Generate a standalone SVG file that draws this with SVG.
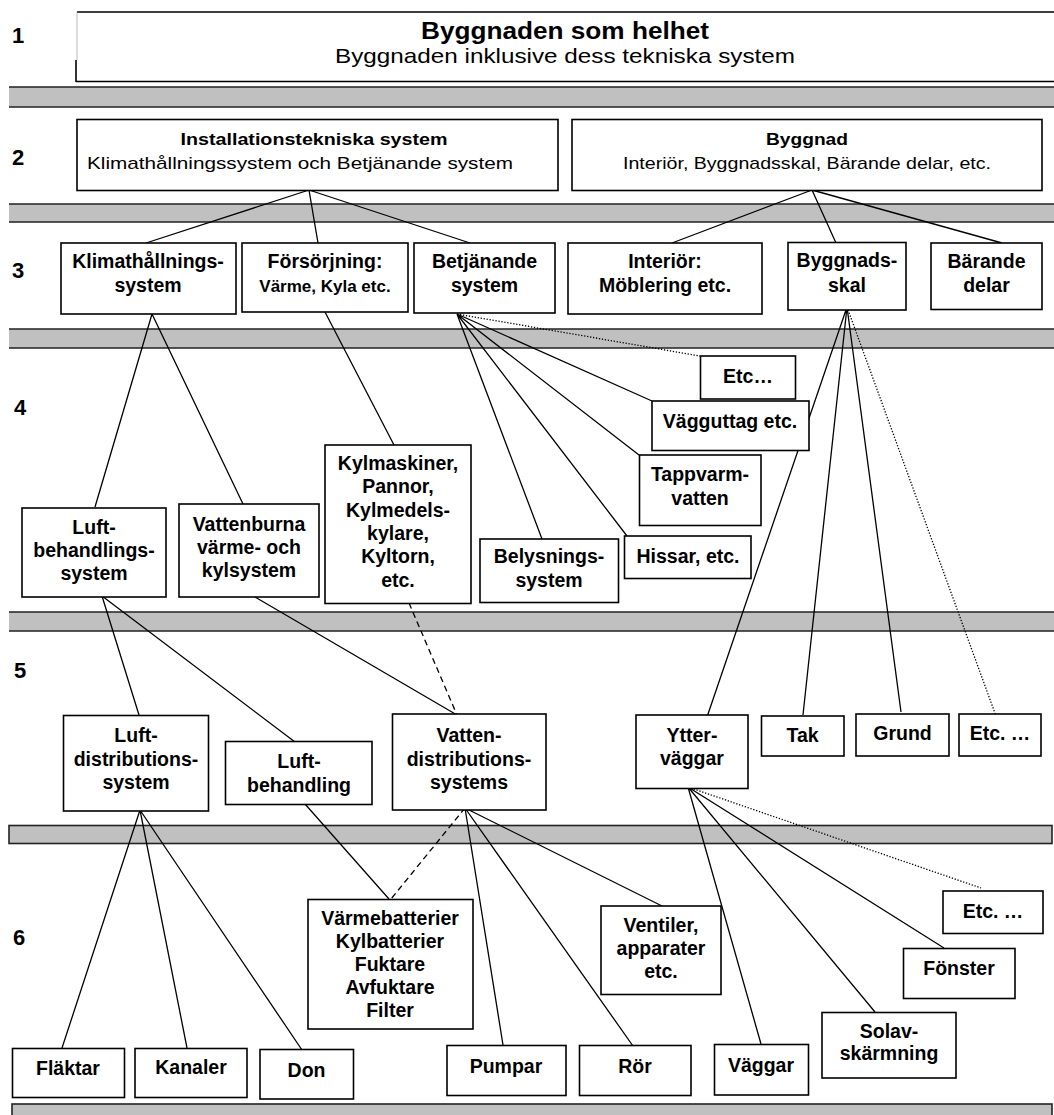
<svg xmlns="http://www.w3.org/2000/svg" width="1054" height="1115" viewBox="0 0 1054 1115">
<style>
text{font-family:"Liberation Sans",Arial,sans-serif;fill:#000}
.b{font-weight:bold;font-size:19.5px;text-anchor:middle}
.lv{font-weight:bold;font-size:22px}
.t2b{font-weight:bold;font-size:17px;text-anchor:middle}
.t2{font-size:17px;text-anchor:middle}
.box{fill:#fff;stroke:#000;stroke-width:1.6}
.band{fill:#c0c0c0;stroke:none}
.bl{stroke:#222;stroke-width:1.6;fill:none}
.c{stroke:#000;stroke-width:1.3;fill:none}
.dot{stroke:#000;stroke-width:1.3;fill:none;stroke-dasharray:1.3 1.7}
.dash{stroke:#000;stroke-width:1.3;fill:none;stroke-dasharray:6 4}
</style>
<rect width="1054" height="1115" fill="#fff"/>
<g id="bands">
<rect class="band" x="9" y="87" width="1050" height="20"/><path class="bl" d="M9 87H1054M9 107H1054"/>
<rect class="band" x="9" y="204" width="1050" height="18"/><path class="bl" d="M9 204H1054M9 222H1054"/>
<rect class="band" x="9" y="329" width="1050" height="19"/><path class="bl" d="M9 329H1054M9 348H1054"/>
<rect class="band" x="9" y="612" width="1050" height="19"/><path class="bl" d="M9 612H1054M9 631H1054"/>
<rect class="band" x="9" y="825.5" width="1043" height="18" style="stroke:#222;stroke-width:1.6"/>
<rect class="band" x="12" y="1104" width="1040" height="15" style="stroke:#222;stroke-width:1.6"/>
</g>
<g id="levels">
<text class="lv" x="12" y="43">1</text>
<text class="lv" x="12" y="165">2</text>
<text class="lv" x="12" y="278">3</text>
<text class="lv" x="14" y="415">4</text>
<text class="lv" x="14" y="678">5</text>
<text class="lv" x="13" y="945">6</text>
</g>
<g id="connectors">
<path class="c" d="M309 190L146 243M309 190L318 243M309 190L470 243"/>
<path class="c" d="M812 190L672 243M812 190L836 243M812 190L1002 243"/>
<path class="c" d="M152 314L95 507M152 314L243 504M325 312L394 445"/>
<path class="c" d="M457 314L542 539M457 314L627 536M457 314L639 455M457 314L652 401"/>
<path class="dot" d="M457 314L700 356"/>
<path class="c" d="M847 307L707 717M847 307L803 715M847 307L901 712"/>
<path class="dot" d="M847 307L996 716"/>
<path class="c" d="M102 596L139 715M102 596L295 742M255 597L457 715"/>
<path class="dash" d="M409 603L457 715"/>
<path class="c" d="M140 810L62 1048M140 810L187 1048M140 810L302 1050M305 804L389 899"/>
<path class="dash" d="M465 808L391 899"/>
<path class="c" d="M465 808L503 1045M465 808L633 1046M465 808L662 906"/>
<path class="c" d="M688 787L761 1044M688 787L875 1012M688 787L944 948"/>
<path class="dot" d="M688 787L981 888"/>
</g>
<g id="n1">
<rect x="77" y="12" width="990" height="69.5" fill="#fff"/>
<path d="M77 12H1054M76 81.5H1054" stroke="#000" stroke-width="1.6" fill="none"/>
<path d="M77 12V60" stroke="#999" stroke-width="0.7"/>
<path d="M76 60V82" stroke="#000" stroke-width="1.6"/>
<text x="565" y="38.5" style="font-weight:bold;font-size:23px;text-anchor:middle" textLength="288" lengthAdjust="spacingAndGlyphs">Byggnaden som helhet</text>
<text x="565" y="63" style="font-size:21px;text-anchor:middle" textLength="460" lengthAdjust="spacingAndGlyphs">Byggnaden inklusive dess tekniska system</text>
</g>
<g id="n2a">
<rect class="box" x="77" y="119.5" width="481" height="71"/>
<text class="t2b" x="314" y="145" textLength="267" lengthAdjust="spacingAndGlyphs">Installationstekniska system</text>
<text class="t2" x="300" y="169" textLength="426" lengthAdjust="spacingAndGlyphs">Klimathållningssystem och Betjänande system</text>
</g>
<g id="n2b">
<rect class="box" x="572" y="119.5" width="470" height="71"/>
<text class="t2b" x="807" y="145" textLength="82" lengthAdjust="spacingAndGlyphs">Byggnad</text>
<text class="t2" x="807" y="169" textLength="368" lengthAdjust="spacingAndGlyphs">Interiör, Byggnadsskal, Bärande delar, etc.</text>
</g>
<g id="n3a"><rect class="box" x="61" y="243" width="175" height="71"/>
<text class="b" x="148" y="268">Klimathållnings-</text><text class="b" x="148" y="292">system</text></g>
<g id="n3b"><rect class="box" x="242" y="243" width="166" height="69"/>
<text class="b" x="325" y="268">Försörjning:</text><text class="b" x="325" y="292" style="font-size:17px">Värme, Kyla etc.</text></g>
<g id="n3c"><rect class="box" x="414" y="243" width="141" height="70"/>
<text class="b" x="484.5" y="268">Betjänande</text><text class="b" x="484.5" y="292">system</text></g>
<g id="n3d"><rect class="box" x="568" y="243" width="194" height="71"/>
<text class="b" x="665" y="268">Interiör:</text><text class="b" x="665" y="292">Möblering etc.</text></g>
<g id="n3e"><rect class="box" x="788" y="242.5" width="118" height="67.5"/>
<text class="b" x="847" y="267">Byggnads-</text><text class="b" x="847" y="291.5">skal</text></g>
<g id="n3f"><rect class="box" x="931" y="243" width="111" height="66.5"/>
<text class="b" x="986.5" y="268">Bärande</text><text class="b" x="986.5" y="292">delar</text></g>
<g id="n4a"><rect class="box" x="22" y="508" width="144" height="89"/>
<text class="b" x="94" y="534">Luft-</text><text class="b" x="94" y="557">behandlings-</text><text class="b" x="94" y="580">system</text></g>
<g id="n4b"><rect class="box" x="179" y="504" width="140" height="93"/>
<text class="b" x="249" y="531">Vattenburna</text><text class="b" x="249" y="553.5">värme- och</text><text class="b" x="249" y="576.5">kylsystem</text></g>
<g id="n4c"><rect class="box" x="325" y="445" width="146" height="158.5"/>
<text class="b" x="398" y="470">Kylmaskiner,</text><text class="b" x="398" y="493">Pannor,</text><text class="b" x="398" y="516.5">Kylmedels-</text><text class="b" x="398" y="540">kylare,</text><text class="b" x="398" y="563">Kyltorn,</text><text class="b" x="398" y="586.5">etc.</text></g>
<g id="n4d"><rect class="box" x="480" y="539" width="138.5" height="63.5"/>
<text class="b" x="549" y="563">Belysnings-</text><text class="b" x="549" y="587">system</text></g>
<g id="n4e"><rect class="box" x="624.5" y="536" width="126.5" height="42.5"/>
<text class="b" x="688" y="562.5">Hissar, etc.</text></g>
<g id="n4f"><rect class="box" x="639.5" y="455" width="121.5" height="70.5"/>
<text class="b" x="700" y="481">Tappvarm-</text><text class="b" x="700" y="505">vatten</text></g>
<g id="n4h"><rect class="box" x="700.5" y="356" width="95" height="43"/>
<text class="b" x="748" y="382.5">Etc…</text></g>
<g id="n4g"><rect class="box" x="652" y="401" width="157" height="49.5"/>
<text class="b" x="730" y="428">Vägguttag etc.</text></g>
<g id="n5a"><rect class="box" x="63.5" y="715.5" width="145" height="95.5"/>
<text class="b" x="136" y="741.5">Luft-</text><text class="b" x="136" y="765.5">distributions-</text><text class="b" x="136" y="789">system</text></g>
<g id="n5b"><rect class="box" x="225.5" y="741.5" width="146.5" height="63"/>
<text class="b" x="299" y="768">Luft-</text><text class="b" x="299" y="791.5">behandling</text></g>
<g id="n5c"><rect class="box" x="392.5" y="714" width="153.5" height="96"/>
<text class="b" x="469" y="741.5">Vatten-</text><text class="b" x="469" y="765.5">distributions-</text><text class="b" x="469" y="789">systems</text></g>
<g id="n5d"><rect class="box" x="636" y="715" width="112" height="73.5"/>
<text class="b" x="692" y="741.5">Ytter-</text><text class="b" x="692" y="765">väggar</text></g>
<g id="n5e"><rect class="box" x="761.5" y="716" width="82.5" height="40"/>
<text class="b" x="802.5" y="741.5">Tak</text></g>
<g id="n5f"><rect class="box" x="856" y="714" width="93" height="42"/>
<text class="b" x="902.5" y="740">Grund</text></g>
<g id="n5g"><rect class="box" x="959" y="714" width="82" height="42"/>
<text class="b" x="1000" y="740">Etc. …</text></g>
<g id="n6a"><rect class="box" x="12.5" y="1048.5" width="112" height="49"/>
<text class="b" x="68" y="1075">Fläktar</text></g>
<g id="n6b"><rect class="box" x="135" y="1048.5" width="112" height="49"/>
<text class="b" x="191" y="1074">Kanaler</text></g>
<g id="n6c"><rect class="box" x="260" y="1049.5" width="93.5" height="49.5"/>
<text class="b" x="306.5" y="1076.5">Don</text></g>
<g id="n6d"><rect class="box" x="308" y="899.5" width="165" height="129.5"/>
<text class="b" x="390" y="925">Värmebatterier</text><text class="b" x="390" y="947.5">Kylbatterier</text><text class="b" x="390" y="970.5">Fuktare</text><text class="b" x="390" y="993.5">Avfuktare</text><text class="b" x="390" y="1016.5">Filter</text></g>
<g id="n6e"><rect class="box" x="447" y="1045.5" width="119" height="50"/>
<text class="b" x="506" y="1073">Pumpar</text></g>
<g id="n6f"><rect class="box" x="579.5" y="1045.5" width="111.5" height="50"/>
<text class="b" x="635" y="1072.5">Rör</text></g>
<g id="n6g"><rect class="box" x="601" y="906" width="120" height="88.5"/>
<text class="b" x="661" y="931.5">Ventiler,</text><text class="b" x="661" y="954.5">apparater</text><text class="b" x="661" y="978">etc.</text></g>
<g id="n6h"><rect class="box" x="714.5" y="1044.5" width="94" height="50.5"/>
<text class="b" x="761" y="1071.5">Väggar</text></g>
<g id="n6i"><rect class="box" x="822" y="1012.5" width="134" height="65.5"/>
<text class="b" x="889" y="1037.5">Solav-</text><text class="b" x="889" y="1060">skärmning</text></g>
<g id="n6j"><rect class="box" x="903.5" y="948.5" width="111.5" height="50"/>
<text class="b" x="959" y="975">Fönster</text></g>
<g id="n6k"><rect class="box" x="943" y="891" width="100" height="42.5"/>
<text class="b" x="993" y="918">Etc. …</text></g>
</svg>
